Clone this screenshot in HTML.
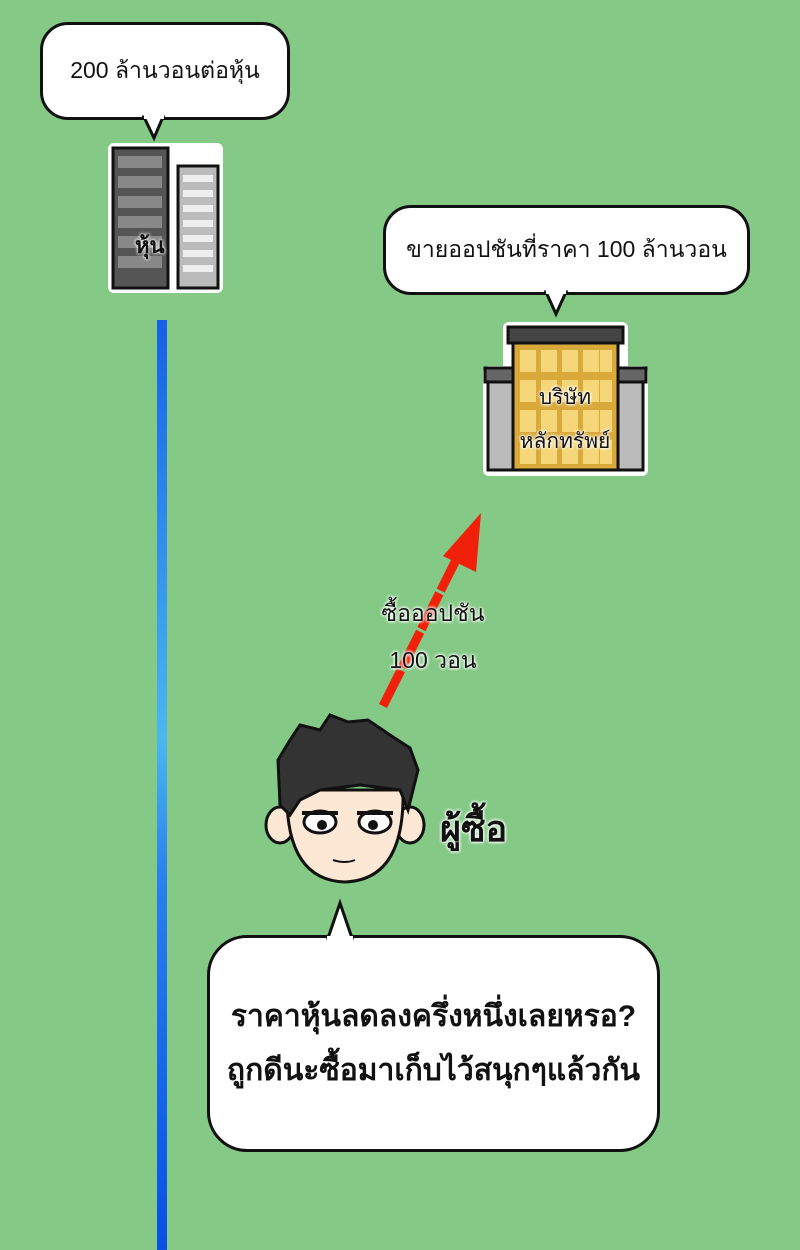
<!DOCTYPE html>
<html><head><meta charset="utf-8"><style>
html,body{margin:0;padding:0}
body{width:800px;height:1250px;background:#84c985;position:relative;overflow:hidden;font-family:"Liberation Sans","Noto Sans CJK SC",sans-serif;}
.b{position:absolute;background:#fff;border:3px solid #111;border-radius:28px;display:flex;align-items:center;justify-content:center;text-align:center;color:#111;box-sizing:border-box}
.t{position:absolute;color:#111;text-align:center;white-space:nowrap}
</style></head><body>
<div class="b" style="left:40px;top:22px;width:250px;height:98px;font-size:23px">200 ล้านวอนต่อหุ้น</div>
<div class="b" style="left:383px;top:205px;width:367px;height:90px;font-size:23px">ขายออปชันที่ราคา 100 ล้านวอน</div>
<div class="b" style="left:207px;top:935px;width:453px;height:217px;border-radius:40px;font-size:30px;line-height:54px;font-weight:bold">ราคาหุ้นลดลงครึ่งหนึ่งเลยหรอ?<br>ถูกดีนะซื้อมาเก็บไว้สนุกๆแล้วกัน</div>
<svg width="800" height="1250" style="position:absolute;left:0;top:0">
<defs><linearGradient id="g" x1="0" y1="0" x2="0" y2="1">
<stop offset="0" stop-color="#1560e8"/><stop offset="0.45" stop-color="#4ab8f0"/><stop offset="0.6" stop-color="#2a80ee"/><stop offset="1" stop-color="#0650e6"/></linearGradient></defs>
<rect x="157" y="320" width="10" height="930" fill="url(#g)"/>
<path d="M144 117 L154 138 L163 117 Z" fill="#fff" stroke="#111" stroke-width="3"/><rect x="144" y="114" width="20" height="5" fill="#fff"/>
<path d="M546 292 L556 314 L566 292 Z" fill="#fff" stroke="#111" stroke-width="3"/><rect x="546" y="289" width="20" height="5" fill="#fff"/>
<path d="M328 938 L340 903 L352 938 Z" fill="#fff" stroke="#111" stroke-width="3"/><rect x="327" y="936" width="26" height="6" fill="#fff"/>
<rect x="108" y="143" width="115" height="150" rx="6" fill="#fff"/>
<rect x="113" y="148" width="55" height="140" fill="#555" stroke="#111" stroke-width="3"/>
<g fill="#888"><rect x="118" y="156" width="44" height="12"/><rect x="118" y="176" width="44" height="12"/><rect x="118" y="196" width="44" height="12"/><rect x="118" y="216" width="44" height="12"/><rect x="118" y="236" width="44" height="12"/><rect x="118" y="256" width="44" height="12"/></g>
<rect x="178" y="166" width="40" height="122" fill="#bbb" stroke="#111" stroke-width="3"/>
<g fill="#eee"><rect x="183" y="175" width="30" height="7"/><rect x="183" y="190" width="30" height="7"/><rect x="183" y="205" width="30" height="7"/><rect x="183" y="220" width="30" height="7"/><rect x="183" y="235" width="30" height="7"/><rect x="183" y="250" width="30" height="7"/><rect x="183" y="265" width="30" height="7"/></g>
<rect x="483" y="366" width="165" height="110" rx="6" fill="#fff"/>
<rect x="503" y="322" width="125" height="50" rx="6" fill="#fff"/>
<rect x="488" y="372" width="155" height="98" fill="#bbb" stroke="#111" stroke-width="3"/>
<rect x="485" y="368" width="161" height="14" fill="#666" stroke="#111" stroke-width="3"/>
<rect x="513" y="340" width="105" height="130" fill="#d9a93a" stroke="#111" stroke-width="3"/>
<rect x="508" y="327" width="115" height="16" fill="#444" stroke="#111" stroke-width="3"/>
<g fill="#f5d77a">
<rect x="520" y="350" width="16" height="22"/><rect x="541" y="350" width="16" height="22"/><rect x="562" y="350" width="16" height="22"/><rect x="583" y="350" width="16" height="22"/><rect x="600" y="350" width="12" height="22"/>
<rect x="520" y="380" width="16" height="22"/><rect x="541" y="380" width="16" height="22"/><rect x="562" y="380" width="16" height="22"/><rect x="583" y="380" width="16" height="22"/><rect x="600" y="380" width="12" height="22"/>
<rect x="520" y="410" width="16" height="22"/><rect x="541" y="410" width="16" height="22"/><rect x="562" y="410" width="16" height="22"/><rect x="583" y="410" width="16" height="22"/><rect x="600" y="410" width="12" height="22"/>
<rect x="520" y="440" width="16" height="24"/><rect x="541" y="440" width="16" height="24"/><rect x="562" y="440" width="16" height="24"/><rect x="583" y="440" width="16" height="24"/><rect x="600" y="440" width="12" height="24"/></g>
<line x1="383" y1="706" x2="462" y2="548" stroke="#f0200a" stroke-width="9" stroke-dasharray="40 3"/>
<path d="M481 513 L476 572 L443 556 Z" fill="#f0200a"/>
<ellipse cx="280" cy="825" rx="14" ry="18" fill="#fde8d5" stroke="#111" stroke-width="3"/>
<ellipse cx="410" cy="825" rx="14" ry="18" fill="#fde8d5" stroke="#111" stroke-width="3"/>
<path d="M287 790 Q285 880 345 882 Q405 880 403 790 Z" fill="#fde8d5" stroke="#111" stroke-width="3"/>
<path d="M280 805 L278 760 L290 740 L300 725 L320 730 L330 715 L348 722 L368 720 L390 735 L410 748 L418 770 L408 810 L400 790 L360 785 L320 790 L300 800 L290 815 Z" fill="#333" stroke="#111" stroke-width="3"/>
<ellipse cx="320" cy="822" rx="16" ry="11" fill="#fff" stroke="#111" stroke-width="3"/>
<ellipse cx="375" cy="822" rx="16" ry="11" fill="#fff" stroke="#111" stroke-width="3"/>
<circle cx="322" cy="825" r="5" fill="#111"/><circle cx="373" cy="825" r="5" fill="#111"/>
<line x1="302" y1="813" x2="338" y2="813" stroke="#111" stroke-width="4"/>
<line x1="357" y1="813" x2="393" y2="813" stroke="#111" stroke-width="4"/>
<path d="M333 860 Q345 864 355 860" stroke="#111" stroke-width="2" fill="none"/>
</svg>
<div class="t" style="left:135px;top:228px;font-size:22px;font-weight:bold;color:#111;text-shadow:0 0 3px #fff,0 0 3px #fff">หุ้น</div>
<div class="t" style="left:495px;top:376px;width:140px;font-size:21px;line-height:44px;text-shadow:0 0 3px #fff,0 0 3px #fff,0 0 3px #fff">บริษัท<br>หลักทรัพย์</div>
<div class="t" style="left:358px;top:590px;width:150px;font-size:23px;line-height:47px;text-shadow:0 0 3px #fff,0 0 3px #fff,0 0 3px #fff">ซื้อออปชัน<br>100 วอน</div>
<div class="t" style="left:440px;top:800px;font-size:36px;font-weight:bold;text-shadow:0 0 3px #fff,0 0 3px #fff,0 0 3px #fff">ผู้ซื้อ</div>
</body></html>
